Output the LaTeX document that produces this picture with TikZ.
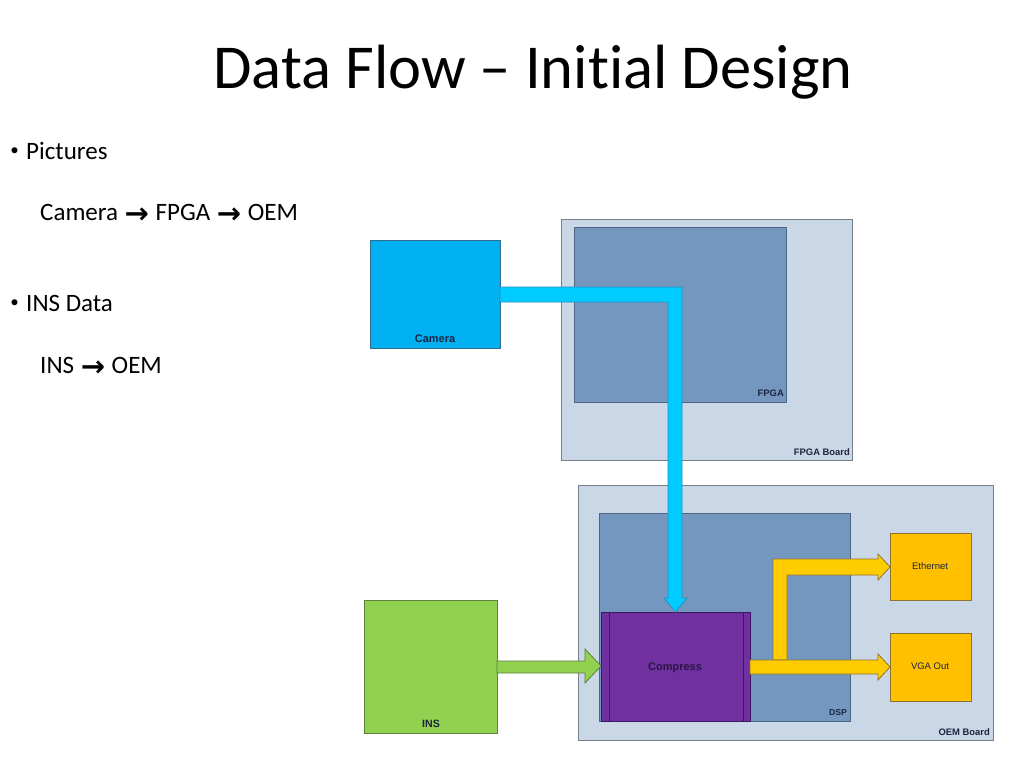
\documentclass[tikz,border=0pt]{standalone}
\usepackage{fontspec}
\setmainfont{Carlito}[Ligatures=CommonOff]
\newfontfamily\arialf{Liberation Sans}
\newfontfamily\djv{DejaVu Sans}
\definecolor{camfill}{HTML}{00B0F0}
\definecolor{camline}{HTML}{2F6E8E}
\definecolor{cyanfill}{HTML}{00CCFF}
\definecolor{cyanline}{HTML}{2C8CBC}
\definecolor{boardfill}{HTML}{C9D7E6}
\definecolor{boardline}{HTML}{75808A}
\definecolor{chipfill}{HTML}{7497C0}
\definecolor{chipline}{HTML}{4D6686}
\definecolor{purpfill}{HTML}{7030A0}
\definecolor{purpline}{HTML}{3B1760}
\definecolor{yelfill}{HTML}{FFC000}
\definecolor{yelline}{HTML}{8C7430}
\definecolor{yarrow}{HTML}{FFCC00}
\definecolor{grnfill}{HTML}{92D050}
\definecolor{grnline}{HTML}{5E8040}
\definecolor{lbltext}{HTML}{1C2540}
\definecolor{comptext}{HTML}{2A1545}
\tikzset{
  blk/.style={rectangle, inner sep=0pt, outer sep=0pt, line width=0.8pt},
  lblb/.style={inner sep=0pt, text=lbltext, font=\arialf\bfseries\fontsize{9.4}{11}\selectfont},
  lblr/.style={inner sep=0pt, text=lbltext, font=\arialf\fontsize{9.5}{11}\selectfont},
  bigl/.style={inner sep=0pt, text=lbltext, font=\arialf\bfseries\fontsize{11}{13}\selectfont},
  bodytext/.style={inner sep=0pt, anchor=base west, font=\fontsize{25}{30}\selectfont},
  bulletmark/.style={inner sep=0pt, anchor=base, font=\fontsize{17}{20}\selectfont},
  barrow/.style={line width=0.8pt, line join=miter}
}
\newcommand{\rarr}{\hspace{1pt}\raisebox{-3pt}{\djv\bfseries\fontsize{29}{30}\selectfont →}\hspace{1pt}}
\begin{document}
\begin{tikzpicture}[x=1pt,y=-1pt]
\useasboundingbox[fill=white] (0,0) rectangle (1024,768);

% title and text
\node[inner sep=0pt, anchor=base, font=\fontsize{62.5}{70}\selectfont] (title) at (533,88) {Data Flow – Initial Design};
\node[bulletmark] (bul1) at (14.5,155) {•};
\node[bodytext] (b1) at (26,159) {Pictures};
\node[bodytext] (b1s) at (40,220) {Camera \rarr{} FPGA \rarr{} OEM};
\node[bulletmark] (bul2) at (14.5,307) {•};
\node[bodytext] (b2) at (26,311) {INS Data};
\node[bodytext] (b2s) at (40,373) {INS \rarr{} OEM};

% boards
\node[blk, fill=boardfill, draw=boardline, minimum width=291pt, minimum height=241pt] (fpgab) at (706.5,339.5) {};
\node[blk, fill=chipfill, draw=chipline, minimum width=212pt, minimum height=175pt] (fpga) at (680,314.5) {};
\node[blk, fill=boardfill, draw=boardline, minimum width=415pt, minimum height=255pt] (oemb) at (785.5,612.5) {};
\node[blk, fill=chipfill, draw=chipline, minimum width=251pt, minimum height=208pt] (dsp) at (724.5,617) {};

% devices
\node[blk, fill=camfill, draw=camline, minimum width=130pt, minimum height=108pt] (cam) at (435,294) {};
\node[blk, fill=grnfill, draw=grnline, minimum width=133pt, minimum height=133pt] (ins) at (430.5,666.5) {};
\node[blk, fill=yelfill, draw=yelline, minimum width=81pt, minimum height=67pt] (eth) at (930.5,566.5) {};
\node[blk, fill=yelfill, draw=yelline, minimum width=81pt, minimum height=68pt] (vga) at (930.5,667) {};
\node[blk, fill=purpfill, draw=purpline, minimum width=149pt, minimum height=109pt] (comp) at (675.5,666.5) {};
\draw[purpline, line width=0.8pt] ([xshift=8pt]comp.north west) -- ([xshift=8pt]comp.south west);
\draw[purpline, line width=0.8pt] ([xshift=-7pt]comp.north east) -- ([xshift=-7pt]comp.south east);

% labels
\node[lblb, anchor=base east] (fpgabl) at (850,455.5) {FPGA Board};
\node[lblb, anchor=base east] (fpgal) at (784,396.5) {FPGA};
\node[lblb, anchor=base east, font=\arialf\bfseries\fontsize{8.6}{10}\selectfont] (dspl) at (847,715) {DSP};
\node[lblb, anchor=base east] (oembl) at (990,735.5) {OEM Board};
\node[bigl, anchor=base] (caml) at (435,342) {Camera};
\node[bigl, anchor=base, font=\arialf\bfseries\fontsize{10.6}{13}\selectfont] (insl) at (431,727) {INS};
\node[bigl, anchor=base, text=comptext] (compl) at (675,670) {Compress};
\node[lblr, anchor=base] (ethl) at (930,569.5) {Ethernet};
\node[lblr, anchor=base] (vgal) at (930,669.5) {VGA Out};

% cyan block arrow: camera -> compress
\coordinate (ca0) at (cam.east |- 0,287);
\coordinate (ca1) at (cam.east |- 0,302);
\coordinate (ctip) at (comp.north -| 675.5,0);
\draw[barrow, fill=cyanfill, draw=cyanline]
  (ca0) -- (682,287) -- (682,598) -- (687,598) -- (ctip) -- (664,598) -- (668,598) -- (668,302) -- (ca1) -- cycle;

% green block arrow: INS -> compress
\coordinate (ga0) at (ins.east |- 0,661);
\coordinate (ga1) at (ins.east |- 0,673);
\coordinate (gtip) at (comp.west |- 0,666);
\draw[barrow, fill=grnfill, draw=grnline]
  (ga0) -- (585,661) -- (585,649) -- (gtip) -- (585,683) -- (585,673) -- (ga1) -- cycle;

% yellow bent arrow: compress -> ethernet
\coordinate (etip) at (eth.west |- 0,567);
\draw[barrow, fill=yarrow, draw=yelline]
  (773,660) -- (773,559) -- (878,559) -- (878,554) -- (etip) -- (878,580) -- (878,575) -- (787,575) -- (787,660) -- cycle;

% yellow straight arrow: compress -> VGA
\coordinate (ya0) at (comp.east |- 0,660);
\coordinate (ya1) at (comp.east |- 0,674);
\coordinate (vtip) at (vga.west |- 0,667);
\draw[barrow, fill=yarrow, draw=yelline]
  (ya0) -- (878,660) -- (878,654) -- (vtip) -- (878,680) -- (878,674) -- (ya1) -- cycle;
\end{tikzpicture}
\end{document}
